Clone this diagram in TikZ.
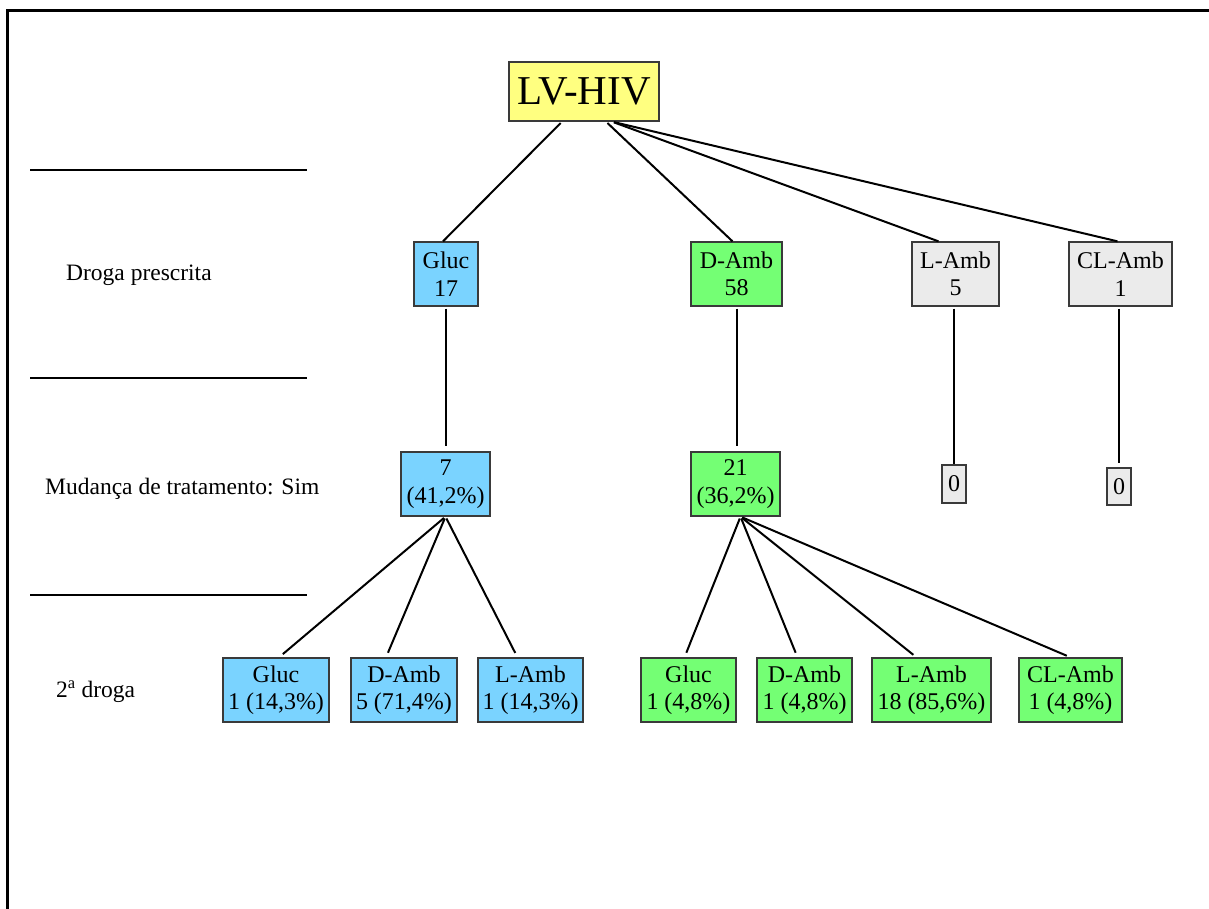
\documentclass[tikz,border=0pt]{standalone}
\usepackage{fontspec}
\setmainfont{Liberation Serif}
\usepackage{tikz}
\usetikzlibrary{positioning}

\definecolor{rootYellow}{HTML}{FFFF80}
\definecolor{glucBlue}{HTML}{7AD3FF}
\definecolor{dambGreen}{HTML}{74FF74}
\definecolor{otherGray}{HTML}{EBEBEB}
\definecolor{boxBorder}{HTML}{3A3A3A}

\begin{document}
\begin{tikzpicture}[
    x=1pt, y=-1pt,
    box/.style={draw=boxBorder, line width=1.3pt, align=center, inner sep=0pt,
        minimum height=64pt, font=\fontsize{24}{27.5}\selectfont},
    blueBox/.style={box, fill=glucBlue},
    greenBox/.style={box, fill=dambGreen},
    grayBox/.style={box, fill=otherGray},
    zeroBox/.style={grayBox, minimum width=24pt, minimum height=38pt},
    rowLabel/.style={anchor=west, inner sep=0pt, font=\fontsize{23.5}{27}\selectfont},
    link/.style={line width=2pt, shorten <=2pt},
    every node/.style={
        text centered,
        }
        ]
    \useasboundingbox (0,0) rectangle (1209,909);

    % frame and row separators
    \draw[line width=3pt] (7,909) -- (7,11) -- (1209,11);
    \foreach \sepY in {170, 378, 595}
        \draw[line width=2pt] (30,\sepY) -- (307,\sepY);

    % row labels
    \node[rowLabel] (lblDrug) at (66,275) {Droga prescrita};
    \node[rowLabel] (lblChange) at (45,489) {Mudança de tratamento: Sim};
    \node[rowLabel] (lblSecond) at (56,692) {2\textsuperscript{a} droga};

    % root
    \node[box, fill=rootYellow, minimum width=150pt, minimum height=59pt,
        font=\fontsize{41}{44}\selectfont] (root) at (584,91.5) {LV-HIV};

    % prescribed drug
    \node[blueBox, minimum width=64pt] (gluc) at (446,274) {Gluc\\17};
    \node[greenBox, minimum width=91pt] (damb) at (736.5,274) {D-Amb\\58};
    \node[grayBox, minimum width=87pt] (lamb) at (955.5,274) {L-Amb\\5};
    \node[grayBox, minimum width=103pt] (clamb) at (1120.5,274) {CL-Amb\\1};

    % change of treatment
    \node[blueBox, minimum width=89pt] (glucSim) at (445.5,484) {7\\(41,2\%)};
    \node[greenBox, minimum width=89pt] (dambSim) at (735.5,484) {21\\(36,2\%)};
    \node[zeroBox] (lambSim) at (954,484) {0};
    \node[zeroBox, minimum height=37pt] (clambSim) at (1119,486.5) {0};

    % second drug
    \node[blueBox, minimum width=106pt] (glucGluc) at (276,690) {Gluc\\1 (14,3\%)};
    \node[blueBox, minimum width=106pt] (glucDamb) at (404,690) {D-Amb\\5 (71,4\%)};
    \node[blueBox, minimum width=105pt] (glucLamb) at (530.5,690) {L-Amb\\1 (14,3\%)};
    \node[greenBox, minimum width=95pt] (dambGluc) at (688.5,690) {Gluc\\1 (4,8\%)};
    \node[greenBox, minimum width=95pt] (dambDamb) at (804.5,690) {D-Amb\\1 (4,8\%)};
    \node[greenBox, minimum width=119pt] (dambLamb) at (931.5,690) {L-Amb\\18 (85,6\%)};
    \node[greenBox, minimum width=103pt] (dambClamb) at (1070.5,690) {CL-Amb\\1 (4,8\%)};

    % root to prescribed drug
    \draw[link] ([xshift=-22pt]root.south) -- ([xshift=-3pt]gluc.north);
    \draw[link] ([xshift=22pt]root.south) -- ([xshift=-4pt]damb.north);
    \draw[link] ([xshift=28pt]root.south) -- ([xshift=-17pt]lamb.north);
    \draw[link] ([xshift=28pt]root.south) -- ([xshift=-3pt]clamb.north);

    % prescribed drug to change
    \draw[link, shorten >=5pt] (gluc.south) -- (gluc.south |- glucSim.north);
    \draw[link, shorten >=5pt] (damb.south) -- (damb.south |- dambSim.north);
    \draw[link] (lambSim.north |- lamb.south) -- (lambSim.north);
    \draw[link, shorten >=4pt] (clambSim.north |- clamb.south) -- (clambSim.north);

    % change to second drug
    \draw[link, shorten >=5pt] (glucSim.south) -- ([xshift=3pt]glucGluc.north);
    \draw[link, shorten >=5pt] (glucSim.south) -- ([xshift=-18pt]glucDamb.north);
    \draw[link, shorten >=5pt] (glucSim.south) -- ([xshift=-13pt]glucLamb.north);
    \draw[link, shorten >=5pt] ([xshift=5pt]dambSim.south) -- ([xshift=-4pt]dambGluc.north);
    \draw[link, shorten >=5pt] ([xshift=5pt]dambSim.south) -- ([xshift=-7pt]dambDamb.north);
    \draw[link, shorten >=4pt] ([xshift=5pt]dambSim.south) -- ([xshift=-15pt]dambLamb.north);
    \draw[link, shorten >=4pt] ([xshift=5pt]dambSim.south) -- (dambClamb.north);
\end{tikzpicture}
\end{document}
